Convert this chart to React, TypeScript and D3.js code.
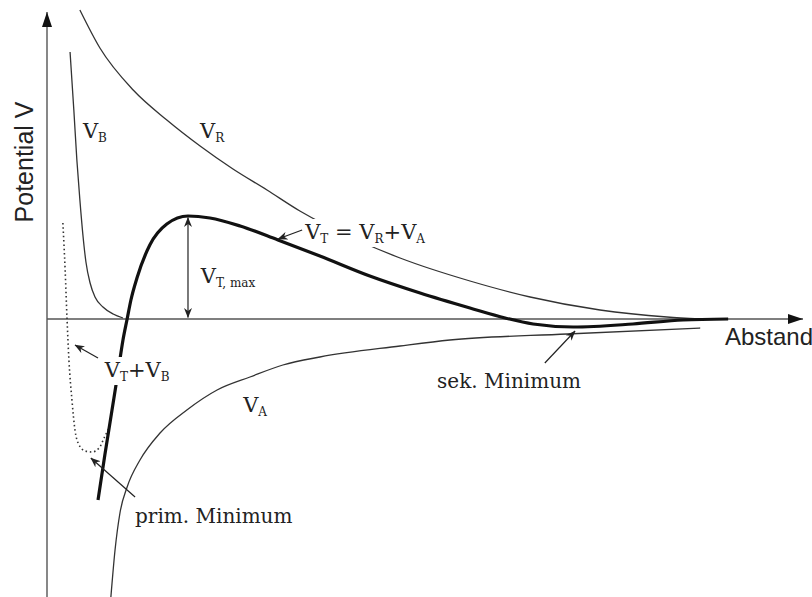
import { useEffect, useRef } from 'react';
import * as d3 from 'd3';

const WIDTH = 812;
const HEIGHT = 597;

// x = Abstand, y = Potential V (arbitrary units)
const vrX = [0.87, 1.40, 2.28, 3.17, 4.05, 4.92, 5.82, 6.69, 8.20, 9.34, 11.19, 12.78, 14.63, 16.40, 17.28];
const vrY = [6.18, 5.42, 4.58, 3.98, 3.46, 3.00, 2.58, 2.16, 1.58, 1.22, 0.76, 0.44, 0.18, 0.04, 0];

const vaX = [1.69, 1.80, 1.93, 2.12, 2.46, 2.99, 3.70, 4.50, 5.37, 6.24, 7.22, 9.34, 10.66, 13.76, 17.28];
const vaY = [-5.56, -4.62, -3.88, -3.36, -2.82, -2.28, -1.82, -1.42, -1.16, -0.92, -0.76, -0.54, -0.42, -0.30, -0.18];

const vbX = [0.61, 0.71, 0.79, 0.87, 0.95, 1.03, 1.14, 1.27, 1.48, 1.75, 2.01];
const vbY = [5.34, 4.18, 3.18, 2.38, 1.68, 1.14, 0.72, 0.44, 0.24, 0.10, 0.02];

const vtX = [1.35, 1.53, 1.72, 1.88, 2.01, 2.12, 2.22, 2.38, 2.72, 3.17, 3.73, 4.31, 5.11, 6.11, 7.22, 8.54, 9.87, 11.19, 12.12, 12.86, 13.92, 15.50, 16.83, 18.02];
const vtY = [-3.62, -2.72, -1.82, -1.06, -0.42, 0, 0.38, 0.82, 1.48, 1.90, 2.06, 2.02, 1.86, 1.58, 1.26, 0.86, 0.52, 0.22, 0.02, -0.10, -0.16, -0.10, -0.02, 0];

const vtbX = [0.42, 0.48, 0.53, 0.58, 0.66, 0.74, 0.85, 1.01, 1.19, 1.38, 1.51, 1.64];
const vtbY = [1.92, 0.98, 0, -0.82, -1.62, -2.22, -2.52, -2.64, -2.66, -2.58, -2.38, -2.18];

const zip = (xs: number[], ys: number[]) => xs.map((x, i) => [x, ys[i]] as [number, number]);

type Part = [string, boolean]; // [text, subscript]

export default function App() {
  const svgRef = useRef<SVGSVGElement>(null);

  useEffect(() => {
    document.body.style.margin = '0';
    const svg = d3.select(svgRef.current);
    svg.selectAll('*').remove();

    const x = d3.scaleLinear().domain([0, 20]).range([47, 803]);
    const y = d3.scaleLinear().domain([-5.56, 6.14]).range([597, 12]);

    const defs = svg.append('defs');
    defs.append('marker')
      .attr('id', 'axisHead').attr('viewBox', '0 0 15 10')
      .attr('refX', 15).attr('refY', 5)
      .attr('markerWidth', 15).attr('markerHeight', 10)
      .attr('markerUnits', 'userSpaceOnUse').attr('orient', 'auto')
      .append('path').attr('d', 'M0,0 L15,5 L0,10 Z').attr('fill', '#111');
    defs.append('marker')
      .attr('id', 'head').attr('viewBox', '0 0 10 8')
      .attr('refX', 9.5).attr('refY', 4)
      .attr('markerWidth', 10).attr('markerHeight', 8)
      .attr('markerUnits', 'userSpaceOnUse').attr('orient', 'auto-start-reverse')
      .append('path').attr('d', 'M0,0 L10,4 L0,8 L3,4 Z').attr('fill', '#222');

    // axes
    svg.append('line')
      .attr('x1', x(0)).attr('x2', x(20)).attr('y1', y(0)).attr('y2', y(0))
      .attr('stroke', '#555').attr('stroke-width', 1.4).attr('marker-end', 'url(#axisHead)');
    svg.append('line')
      .attr('x1', x(0)).attr('x2', x(0)).attr('y1', y(-5.56)).attr('y2', y(6.14))
      .attr('stroke', '#555').attr('stroke-width', 1.4).attr('marker-end', 'url(#axisHead)');

    const line = d3.line<[number, number]>()
      .x(d => x(d[0])).y(d => y(d[1]))
      .curve(d3.curveMonotoneX);

    const thin = [zip(vrX, vrY), zip(vaX, vaY), zip(vbX, vbY)];
    thin.forEach(pts => {
      svg.append('path').datum(pts).attr('d', line)
        .attr('fill', 'none').attr('stroke', '#333').attr('stroke-width', 1.3);
    });

    svg.append('path').datum(zip(vtbX, vtbY)).attr('d', line)
      .attr('fill', 'none').attr('stroke', '#333').attr('stroke-width', 1.6)
      .attr('stroke-dasharray', '1.5,2.8');

    svg.append('path').datum(zip(vtX, vtY)).attr('d', line)
      .attr('fill', 'none').attr('stroke', '#111').attr('stroke-width', 3.2)
      .attr('stroke-linecap', 'butt');

    // labels
    const addLabel = (lx: number, ly: number, parts: Part[], size: number, masked = false) => {
      const g = svg.append('g');
      const t = g.append('text')
        .attr('x', x(lx)).attr('y', y(ly))
        .attr('font-family', '"DejaVu Serif", serif')
        .attr('font-size', size).attr('fill', '#222');
      let inSub = false;
      parts.forEach(([s, sub]) => {
        const ts = t.append('tspan').text(s);
        if (sub && !inSub) ts.attr('dy', 4);
        if (!sub && inSub) ts.attr('dy', -4);
        if (sub) ts.attr('font-size', 12);
        inSub = sub;
      });
      if (masked) {
        const b = (t.node() as SVGTextElement).getBBox();
        g.insert('rect', 'text')
          .attr('x', b.x - 2).attr('y', b.y - 1)
          .attr('width', b.width + 4).attr('height', b.height + 2)
          .attr('fill', '#fff');
      }
    };

    addLabel(0.95, 3.62, [['V', false], ['B', true]], 21);
    addLabel(4.05, 3.62, [['V', false], ['R', true]], 21);
    addLabel(6.83, 1.60, [['V', false], ['T', true], [' = V', false], ['R', true], ['+V', false], ['A', true]], 21, true);
    addLabel(4.07, 0.72, [['V', false], ['T, max', true]], 21);
    addLabel(1.53, -1.16, [['V', false], ['T', true], ['+V', false], ['B', true]], 21, true);
    addLabel(5.19, -1.86, [['V', false], ['A', true]], 21);
    addLabel(2.33, -4.08, [['prim. Minimum', false]], 20);
    addLabel(10.32, -1.38, [['sek. Minimum', false]], 20);

    // annotation arrows
    const arrows: [number, number, number, number, boolean][] = [
      [6.75, 1.78, 6.11, 1.60, false],
      [3.73, 0.03, 3.73, 2.03, true],
      [1.35, -0.78, 0.74, -0.52, false],
      [2.33, -3.56, 1.16, -2.78, false],
      [13.17, -0.88, 13.97, -0.24, false],
    ];
    arrows.forEach(([x1, y1, x2, y2, both]) => {
      const l = svg.append('line')
        .attr('x1', x(x1)).attr('y1', y(y1)).attr('x2', x(x2)).attr('y2', y(y2))
        .attr('stroke', '#222').attr('stroke-width', 1.2)
        .attr('marker-end', 'url(#head)');
      if (both) l.attr('marker-start', 'url(#head)');
    });

    // axis titles
    svg.append('text')
      .attr('x', 725).attr('y', 345)
      .attr('font-family', '"Liberation Sans", Arial, sans-serif')
      .attr('font-size', 24).attr('fill', '#222')
      .text('Abstand');
    svg.append('text')
      .attr('transform', 'translate(33,162) rotate(-90)')
      .attr('text-anchor', 'middle')
      .attr('font-family', '"Liberation Sans", Arial, sans-serif')
      .attr('font-size', 25).attr('fill', '#222')
      .text('Potential V');
  }, []);

  return (
    <div style={{ position: 'fixed', left: 0, top: 0, width: WIDTH, height: HEIGHT, background: '#fff' }}>
      <svg ref={svgRef} width={WIDTH} height={HEIGHT} style={{ display: 'block', overflow: 'hidden' }} />
    </div>
  );
}
